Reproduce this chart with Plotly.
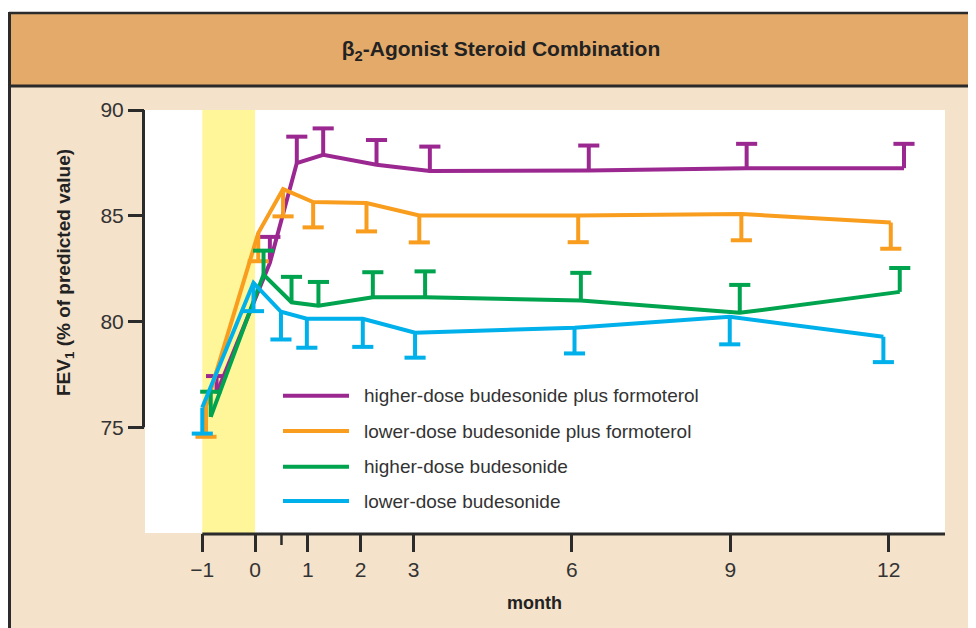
import plotly.graph_objects as go

# ---------------- data ----------------
series_names = [
    "higher-dose budesonide plus formoterol",
    "lower-dose budesonide plus formoterol",
    "higher-dose budesonide",
    "lower-dose budesonide",
]
series_colors = ["#9B2890", "#F99D1E", "#00A34E", "#00B0EA"]

months_hd_bf = [-0.73, 0.28, 0.79, 1.29, 2.30, 3.31, 6.32, 9.31, 12.29]
fev_hd_bf = [76.60, 82.77, 87.49, 87.88, 87.41, 87.12, 87.14, 87.25, 87.25]
err_end_hd_bf = [77.42, 84.00, 88.74, 89.13, 88.58, 88.27, 88.32, 88.40, 88.40]   # upper bars

months_ld_bf = [-0.93, 0.06, 0.53, 1.10, 2.11, 3.11, 6.12, 9.21, 12.04]
fev_ld_bf = [76.00, 84.18, 86.26, 85.65, 85.60, 85.01, 85.01, 85.08, 84.68]
err_end_ld_bf = [74.55, 82.85, 84.97, 84.45, 84.26, 83.74, 83.75, 83.84, 83.44]   # lower bars

months_hd_b = [-0.84, 0.16, 0.69, 1.20, 2.23, 3.22, 6.17, 9.18, 12.21]
fev_hd_b = [75.49, 82.22, 80.91, 80.75, 81.15, 81.15, 80.99, 80.41, 81.40]
err_end_hd_b = [76.68, 83.35, 82.11, 81.87, 82.33, 82.37, 82.30, 81.73, 82.53]    # upper bars

months_ld_b = [-1.00, -0.03, 0.49, 0.98, 2.04, 3.03, 6.05, 8.99, 11.90]
fev_ld_b = [75.93, 81.83, 80.46, 80.13, 80.13, 79.47, 79.70, 80.22, 79.28]
err_end_ld_b = [74.70, 80.49, 79.15, 78.76, 78.80, 78.29, 78.49, 78.92, 78.08]    # lower bars

x_tickvals = [-1, 0, 1, 2, 3, 6, 9, 12]
x_ticktext = ["\u22121", "0", "1", "2", "3", "6", "9", "12"]
y_tickvals = [75, 80, 85, 90]
run_in = [-1, 0]          # shaded run-in period (months)

title_text = "<b>\u03b2<sub>2</sub>-Agonist Steroid Combination</b>"
x_title = "<b>month</b>"
y_title = "<b>FEV<sub>1</sub> (% of predicted value)</b>"

# ---------------- layout geometry (page pixel coords) ----------------
PAGE_OFF = 8                      # default body margin of the html page
W, H = 976 - PAGE_OFF, 628 - PAGE_OFF
PL, PR, PT, PB = 145, 945, 110, 533   # plot area in page pixels
L, T = PL - PAGE_OFF, PT - PAGE_OFF
R, B = (W + PAGE_OFF) - PR, (H + PAGE_OFF) - PB
PW, PH = PR - PL, PB - PT
X_RANGE = [-2.085, 13.067]
Y_RANGE = [70, 90]

def px(xp):
    return (xp - PL) / PW

def py(yp):
    return (PB - yp) / PH

FONT = "Liberation Sans, Arial, sans-serif"
DARK = "#2B2B2B"
TEXT = "#333333"
CAP_HALF = 0.2  # months

fig = go.Figure()

all_series = [
    (months_hd_bf, fev_hd_bf, err_end_hd_bf),
    (months_ld_bf, fev_ld_bf, err_end_ld_bf),
    (months_hd_b, fev_hd_b, err_end_hd_b),
    (months_ld_b, fev_ld_b, err_end_ld_b),
]

for (xs, ys, ends), name, col in zip(all_series, series_names, series_colors):
    fig.add_trace(go.Scatter(x=xs, y=ys, mode="lines", name=name,
                             line=dict(color=col, width=4), showlegend=False,
                             hoverinfo="skip"))
    ex, ey = [], []
    for x, y, e in zip(xs, ys, ends):
        ex += [x, x, None, x - CAP_HALF, x + CAP_HALF, None]
        ey += [y, e, None, e, e, None]
    fig.add_trace(go.Scatter(x=ex, y=ey, mode="lines", showlegend=False,
                             line=dict(color=col, width=4), hoverinfo="skip"))

shapes = []
# white strip above the panel
shapes.append(dict(type="rect", xref="paper", yref="paper", x0=px(0), x1=px(990),
                   y0=py(13), y1=py(0), fillcolor="white", line_width=0, layer="below"))
# header band
shapes.append(dict(type="rect", xref="paper", yref="paper", x0=px(9), x1=px(990),
                   y0=py(86), y1=py(13), fillcolor="#E3AA6A", line_width=0, layer="below"))
# borders
shapes.append(dict(type="line", xref="paper", yref="paper", x0=px(9), x1=px(990),
                   y0=py(13), y1=py(13), line=dict(color=DARK, width=2.5)))
shapes.append(dict(type="line", xref="paper", yref="paper", x0=px(9), x1=px(990),
                   y0=py(86), y1=py(86), line=dict(color=DARK, width=3)))
shapes.append(dict(type="line", xref="paper", yref="paper", x0=px(9.5), x1=px(9.5),
                   y0=py(12), y1=py(640), line=dict(color=DARK, width=3)))
# run-in band
shapes.append(dict(type="rect", xref="x", yref="paper", x0=run_in[0], x1=run_in[1],
                   y0=0, y1=1, fillcolor="#FFF599", line_width=0, layer="below"))
# y axis line (75..90)
shapes.append(dict(type="line", xref="paper", yref="y", x0=px(143.5), x1=px(143.5),
                   y0=y_tickvals[0], y1=y_tickvals[-1], line=dict(color=DARK, width=3)))
# x axis line from -1 to right edge
shapes.append(dict(type="line", xref="x", yref="paper", x0=x_tickvals[0], x1=X_RANGE[1],
                   y0=py(534), y1=py(534), line=dict(color=DARK, width=3)))
# minor tick at half month
shapes.append(dict(type="line", xref="x", yref="paper", x0=0.5, x1=0.5,
                   y0=py(534), y1=py(545), line=dict(color=DARK, width=2.5)))

annotations = []
# legend (drawn as keys + labels)
legend_rows = [395.7, 431, 466.7, 501]
for name, col, yr in zip(series_names, series_colors, legend_rows):
    shapes.append(dict(type="line", xref="paper", yref="paper", x0=px(283), x1=px(349),
                       y0=py(yr), y1=py(yr), line=dict(color=col, width=4)))
    annotations.append(dict(xref="paper", yref="paper", x=px(362), y=py(yr), text=name,
                            showarrow=False, xanchor="left", yanchor="middle",
                            font=dict(family=FONT, size=19, color=TEXT)))

annotations.append(dict(xref="paper", yref="paper", x=px(65), y=py(273), text=y_title,
                        textangle=-90, showarrow=False, xanchor="center", yanchor="middle",
                        font=dict(family=FONT, size=19, color="#222222")))
annotations.append(dict(xref="paper", yref="paper", x=px(534.5), y=py(603), text=x_title,
                        showarrow=False, xanchor="center", yanchor="middle",
                        font=dict(family=FONT, size=18, color="#222222")))

fig.update_layout(
    width=W, height=H,
    margin=dict(l=L, r=R, t=T, b=B, pad=0),
    paper_bgcolor="#F4E2CA",
    plot_bgcolor="white",
    showlegend=False,
    shapes=shapes,
    annotations=annotations,
    title=dict(text=title_text, xref="paper", x=px(501), xanchor="center",
               yref="container", y=1 - (49 - PAGE_OFF) / H, yanchor="middle",
               font=dict(family=FONT, size=21, color="#222222")),
    xaxis=dict(range=X_RANGE, tickmode="array", tickvals=x_tickvals, ticktext=x_ticktext,
               ticks="outside", ticklen=18, tickwidth=3, tickcolor=DARK,
               showgrid=False, zeroline=False, showline=False,
               tickfont=dict(family=FONT, size=21, color=TEXT)),
    yaxis=dict(range=Y_RANGE, tickmode="array", tickvals=y_tickvals,
               ticks="outside", ticklen=16, tickwidth=3, tickcolor=DARK,
               showgrid=False, zeroline=False, showline=False,
               tickfont=dict(family=FONT, size=21, color=TEXT)),
)

fig.write_html("out.html")
